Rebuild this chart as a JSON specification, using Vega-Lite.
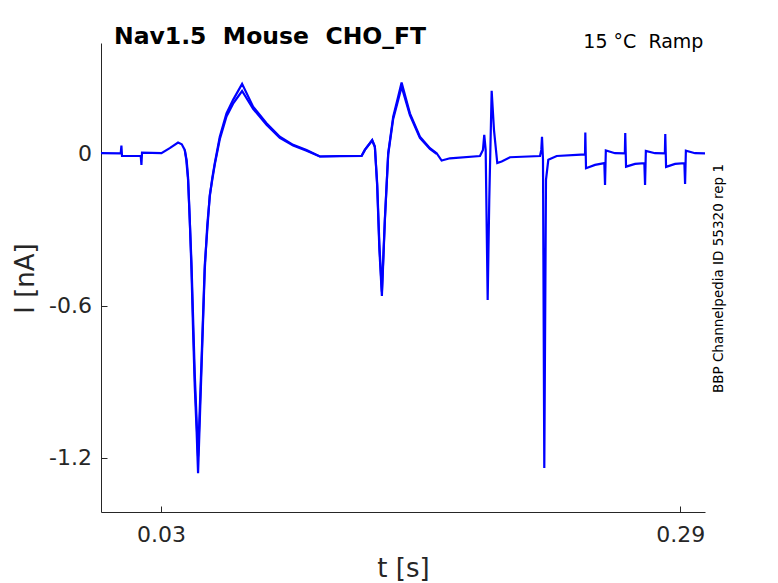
{
  "$schema": "https://vega.github.io/schema/vega-lite/v6.json",
  "width": 604,
  "height": 469,
  "autosize": {"type": "none"},
  "padding": {"left": 101, "top": 43, "right": 73, "bottom": 71},
  "background": "white",
  "config": {"view": {"stroke": null}, "font": "DejaVu Sans"},
  "title": {"text": "Nav1.5\u00a0 Mouse\u00a0 CHO_FT", "anchor": "start", "frame": "group", "dx": 13, "fontSize": 23.5, "fontWeight": "bold", "font": "DejaVu Sans", "color": "black", "baseline": "alphabetic", "offset": -35},
  "datasets": {
    "trace": [
      {"s":"a","t":0,"i":0},{"s":"a","t":0.00987,"i":-0.001},{"s":"a","t":0.01022,"i":0.030},{"s":"a","t":0.01052,"i":-0.011},
      {"s":"a","t":0.01989,"i":-0.011},{"s":"a","t":0.02024,"i":-0.046},{"s":"a","t":0.02054,"i":0.002},{"s":"a","t":0.03026,"i":0},
      {"s":"a","t":0.03442,"i":0.020},{"s":"a","t":0.03858,"i":0.042},{"s":"a","t":0.04043,"i":0.035},{"s":"a","t":0.04193,"i":0.013},
      {"s":"a","t":0.04269,"i":-0.026},{"s":"a","t":0.04359,"i":-0.105},{"s":"a","t":0.04444,"i":-0.263},{"s":"a","t":0.04529,"i":-0.459},
      {"s":"a","t":0.04609,"i":-0.696},{"s":"a","t":0.04694,"i":-0.919},{"s":"a","t":0.04785,"i":-1.089},
      {"s":"a","t":0.04860,"i":-1.260},{"s":"a","t":0.05030,"i":-0.853},{"s":"a","t":0.05195,"i":-0.459},{"s":"a","t":0.05321,"i":-0.282},
      {"s":"a","t":0.05446,"i":-0.171},{"s":"a","t":0.05571,"i":-0.097},
      {"s":"a","t":0.05696,"i":-0.039},{"s":"a","t":0.05947,"i":0.065},{"s":"a","t":0.06283,"i":0.157},{"s":"a","t":0.06613,"i":0.210},
      {"s":"a","t":0.07064,"i":0.273},{"s":"a","t":0.07615,"i":0.183},{"s":"a","t":0.08287,"i":0.118},{"s":"a","t":0.08953,"i":0.065},
      {"s":"a","t":0.09619,"i":0.033},{"s":"a","t":0.10291,"i":0.013},{"s":"a","t":0.10957,"i":-0.013},{"s":"a","t":0.11959,"i":-0.011},
      {"s":"a","t":0.13046,"i":-0.011},{"s":"a","t":0.13211,"i":0.013},{"s":"a","t":0.13577,"i":0.052},{"s":"a","t":0.13712,"i":0.026},
      {"s":"a","t":0.13828,"i":-0.131},{"s":"a","t":0.13938,"i":-0.381},{"s":"a","t":0.14063,"i":-0.562},{"s":"a","t":0.14214,"i":-0.263},
      {"s":"a","t":0.14379,"i":0},{"s":"a","t":0.14629,"i":0.144},{"s":"a","t":0.14880,"i":0.223},{"s":"a","t":0.15050,"i":0.278},
      {"s":"a","t":0.15466,"i":0.157},{"s":"a","t":0.15967,"i":0.065},{"s":"a","t":0.16468,"i":0.020},{"s":"a","t":0.16804,"i":0},
      {"s":"a","t":0.17054,"i":-0.029},{"s":"a","t":0.17470,"i":-0.020},{"s":"a","t":0.18973,"i":-0.011},{"s":"a","t":0.19123,"i":0.013},
      {"s":"a","t":0.19188,"i":0.072},{"s":"a","t":0.19259,"i":0.013},{"s":"a","t":0.19359,"i":-0.578},{"s":"a","t":0.19439,"i":-0.184},
      {"s":"a","t":0.19559,"i":0.246},{"s":"a","t":0.19675,"i":0.092},{"s":"a","t":0.19840,"i":-0.039},{"s":"a","t":0.20060,"i":-0.033},
      {"s":"a","t":0.20476,"i":-0.016},{"s":"a","t":0.21979,"i":-0.011},{"s":"a","t":0.22044,"i":0.013},{"s":"a","t":0.22079,"i":0.065},
      {"s":"a","t":0.22129,"i":-0.026},{"s":"a","t":0.22194,"i":-1.240},{"s":"a","t":0.22279,"i":-0.105},{"s":"a","t":0.22395,"i":-0.026},
      {"s":"a","t":0.22816,"i":-0.011},{"s":"a","t":0.24233,"i":-0.005},{"s":"a","t":0.24248,"i":0.081},{"s":"a","t":0.24283,"i":-0.059},
      {"s":"a","t":0.24734,"i":-0.046},{"s":"a","t":0.25200,"i":-0.039},{"s":"a","t":0.25235,"i":-0.125},{"s":"a","t":0.25275,"i":0.011},
      {"s":"a","t":0.25736,"i":0},{"s":"a","t":0.26227,"i":-0.001},{"s":"a","t":0.26247,"i":0.079},{"s":"a","t":0.26287,"i":-0.053},
      {"s":"a","t":0.26738,"i":-0.042},{"s":"a","t":0.27204,"i":-0.039},{"s":"a","t":0.27239,"i":-0.125},{"s":"a","t":0.27279,"i":0.009},
      {"s":"a","t":0.27740,"i":0},{"s":"a","t":0.28231,"i":-0.001},{"s":"a","t":0.28251,"i":0.076},{"s":"a","t":0.28291,"i":-0.054},
      {"s":"a","t":0.28742,"i":-0.042},{"s":"a","t":0.29208,"i":-0.039},{"s":"a","t":0.29243,"i":-0.121},{"s":"a","t":0.29283,"i":0.010},
      {"s":"a","t":0.29744,"i":0},{"s":"a","t":0.30245,"i":-0.001},
      {"s":"b","t":0.04193,"i":0.013},{"s":"b","t":0.04290,"i":-0.028},{"s":"b","t":0.04359,"i":-0.095},{"s":"b","t":0.04529,"i":-0.430},
      {"s":"b","t":0.04694,"i":-0.870},{"s":"b","t":0.04860,"i":-1.195},{"s":"b","t":0.05030,"i":-0.820},{"s":"b","t":0.05195,"i":-0.440},
      {"s":"b","t":0.05446,"i":-0.165},{"s":"b","t":0.05696,"i":-0.045},{"s":"b","t":0.05947,"i":0.055},{"s":"b","t":0.06283,"i":0.145},
      {"s":"b","t":0.06613,"i":0.195},{"s":"b","t":0.07064,"i":0.245},{"s":"b","t":0.07615,"i":0.175},{"s":"b","t":0.08287,"i":0.112},
      {"s":"b","t":0.08953,"i":0.060},{"s":"b","t":0.09619,"i":0.030},{"s":"b","t":0.10291,"i":0.010},{"s":"b","t":0.10957,"i":-0.013},
      {"s":"b","t":0.13046,"i":-0.011},{"s":"b","t":0.13211,"i":0.013},{"s":"b","t":0.13577,"i":0.050},{"s":"b","t":0.13712,"i":0.024},
      {"s":"b","t":0.13828,"i":-0.120},{"s":"b","t":0.13938,"i":-0.360},{"s":"b","t":0.14063,"i":-0.545},{"s":"b","t":0.14214,"i":-0.255},
      {"s":"b","t":0.14379,"i":-0.005},{"s":"b","t":0.14629,"i":0.135},{"s":"b","t":0.14880,"i":0.210},{"s":"b","t":0.15050,"i":0.262},
      {"s":"b","t":0.15466,"i":0.150},{"s":"b","t":0.15967,"i":0.060},{"s":"b","t":0.16468,"i":0.017},{"s":"b","t":0.16804,"i":-0.003}
    ]
  },
  "layer": [
    {
      "data": {"name": "trace"},
      "mark": {"type": "line", "color": "#0000ff", "strokeWidth": 2.2, "clip": true},
      "encoding": {
        "x": {
          "field": "t", "type": "quantitative",
          "scale": {"domain": [0, 0.3024], "nice": false, "zero": false},
          "axis": {
            "title": "t [s]", "values": [0.03, 0.29], "labelExpr": "'' + datum.value", "grid": false,
            "domainColor": "#262626", "tickColor": "#262626", "tickSize": -6, "labelPadding": 35,
            "labelBaseline": "alphabetic", "labelFontSize": 22, "labelColor": "#262626", "labelFont": "DejaVu Sans",
            "labelFlush": false, "labelOverlap": false,
            "titleFontSize": 26, "titleFontWeight": "normal", "titleColor": "#262626", "titleFont": "DejaVu Sans",
            "titleX": 302, "titleY": 64, "titleBaseline": "alphabetic", "titleAlign": "center"
          }
        },
        "y": {
          "field": "i", "type": "quantitative",
          "scale": {"domain": [-1.413, 0.434], "nice": false, "zero": false},
          "axis": {
            "title": "I [nA]", "values": [-1.2, -0.6, 0], "labelExpr": "'' + datum.value", "grid": false,
            "domainColor": "#262626", "tickColor": "#262626", "tickSize": -6, "labelPadding": 15.6,
            "labelBaseline": "middle", "labelFontSize": 22, "labelColor": "#262626", "labelFont": "DejaVu Sans",
            "labelFlush": false, "labelOverlap": false,
            "titleFontSize": 26, "titleFontWeight": "normal", "titleColor": "#262626", "titleFont": "DejaVu Sans",
            "titleX": -67.8, "titleY": 235, "titleAngle": 270, "titleBaseline": "alphabetic", "titleAlign": "center"
          }
        },
        "detail": {"field": "s"}
      }
    },
    {
      "data": {"values": [{"label": "15 °C\u00a0 Ramp"}]},
      "mark": {"type": "text", "align": "right", "baseline": "alphabetic", "fontSize": 19, "font": "DejaVu Sans", "color": "black"},
      "encoding": {
        "text": {"field": "label"},
        "x": {"datum": 0.3016, "type": "quantitative", "axis": {"title": "t [s]"}},
        "y": {
          "datum": 0.4155, "type": "quantitative",
          "axis": {
            "orient": "right", "title": "BBP Channelpedia ID 55320 rep 1", "domain": false, "ticks": false, "labels": false, "grid": false,
            "titleFontSize": 13.5, "titleFontWeight": "normal", "titleColor": "black", "titleFont": "DejaVu Sans",
            "titleX": 17, "titleY": 235, "titleAngle": 270, "titleBaseline": "alphabetic", "titleAlign": "center"
          }
        }
      }
    }
  ],
  "resolve": {"axis": {"y": "independent"}}
}
